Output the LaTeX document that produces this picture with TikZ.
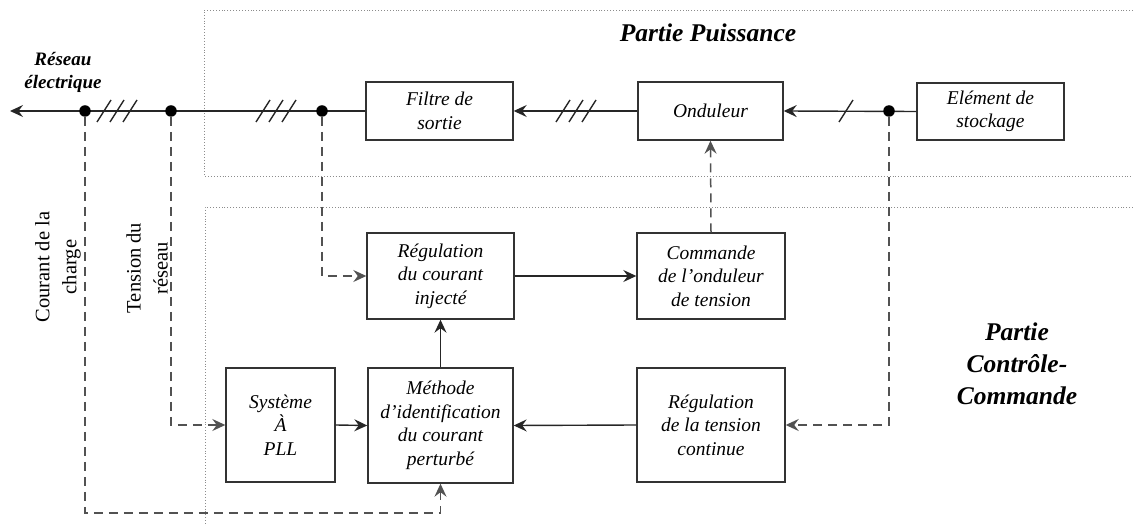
\documentclass[tikz,border=0pt]{standalone}
\usepackage{fontspec}
\setmainfont{Liberation Serif}
\usetikzlibrary{arrows.meta}
\begin{document}
\begin{tikzpicture}[x=1pt,y=-1pt,
  blk/.style={draw=black!80, line width=1.4pt, fill=white, inner sep=2pt, align=center,
    font=\fontsize{19.5}{23.5}\selectfont\itshape},
  ln/.style={line width=1.4pt, draw=black!85},
  arr/.style={ln, -{Stealth[length=13pt,width=12pt,inset=4.5pt]}},
  dsh/.style={line width=1.5pt, draw=black!68, dash pattern=on 9pt off 6pt},
  darr/.style={dsh, -{Stealth[length=13pt,width=12pt,inset=4.5pt]}},
  jdot/.style={circle, fill=black, inner sep=0pt, minimum size=11.5pt},
  zone/.style={draw=black!45, line width=0.9pt, dotted},
  ttl/.style={font=\fontsize{25.5}{32}\selectfont\bfseries\itshape, align=center},
  side/.style={font=\fontsize{20.5}{27}\selectfont, align=center, rotate=90},
  tick/.pic={\draw[line width=1.4pt, black!85] (-7,11) -- (7,-11);}
]
\useasboundingbox (0,0) rectangle (1133,526);

% zones
\draw[zone] (1133,10) -- (204,10) -- (204,176) -- (1133,176);
\draw[zone] (1133,207) -- (205,207) -- (205,526);
\node[ttl] (tP) at (708,33) {Partie Puissance};
\node[ttl] (tC) at (1017,364) {Partie\\Contrôle-\\Commande};

% power blocks
\node[blk, minimum width=147pt, minimum height=58pt] (filtre) at (439.5,111) {Filtre de\\sortie};
\node[blk, minimum width=145pt, minimum height=58pt] (ond) at (710.5,111) {Onduleur};
\node[blk, minimum width=147pt, minimum height=57pt] (stock) at (990.5,111.5) {Elément de\\stockage};

% control blocks
\node[blk, minimum width=147pt, minimum height=86pt] (regC) at (440.5,276) {Régulation\\du courant\\injecté};
\node[blk, minimum width=148pt, minimum height=86pt] (cmd) at (711,276) {Commande\\de l’onduleur\\de tension};
\node[blk, minimum width=145pt, minimum height=115pt] (meth) at (440.5,425.5) {Méthode\\d’identification\\du courant\\perturbé};
\node[blk, minimum width=148pt, minimum height=114pt] (regT) at (711,425) {Régulation\\de la tension\\continue};
\node[blk, minimum width=109pt, minimum height=114pt] (pll) at (280.5,425) {Système\\À\\PLL};

% grid line
\coordinate (reseau) at (10,111);
\coordinate (bend) at (85,513);
\node[font=\fontsize{19}{23}\selectfont\bfseries\itshape, align=center] (lres) at (63,72) {Réseau\\électrique};

\draw[arr] (filtre.west) -- (reseau);
\draw[arr] (ond.west) -- (filtre.east);
\draw[arr] (stock.west) -- (ond.east);

\node[jdot] (d1) at (85,111) {};
\node[jdot] (d2) at (171,111) {};
\node[jdot] (d3) at (322,111) {};
\node[jdot] (d4) at (889,111) {};

% slash marks
\foreach \x in {104,117,130} \pic at (\x,111) {tick};
\foreach \x in {263,276,289} \pic at (\x,111) {tick};
\foreach \x in {563,576,589} \pic at (\x,111) {tick};
\pic at (846,111) {tick};

% control links
\draw[arr] (regC.east) -- (cmd.west);
\draw[arr] (meth.north) -- (regC.south);
\draw[arr] (pll.east) -- (meth.west);
\draw[arr] (regT.west) -- (meth.east);
\draw[darr] (cmd.north) -- (ond.south);

% measurement links
\draw[darr] (d3) |- (regC.west);
\draw[darr] (d2) |- (pll.west);
\draw[darr] (d4) |- (regT.east);
\draw[darr] (d1) -- (bend) -| (meth.south);

% side labels
\node[side] (lcour) at (58,267) {Courant de la\\charge};
\node[side] (lten) at (147,268) {Tension du\\réseau};
\end{tikzpicture}
\end{document}
